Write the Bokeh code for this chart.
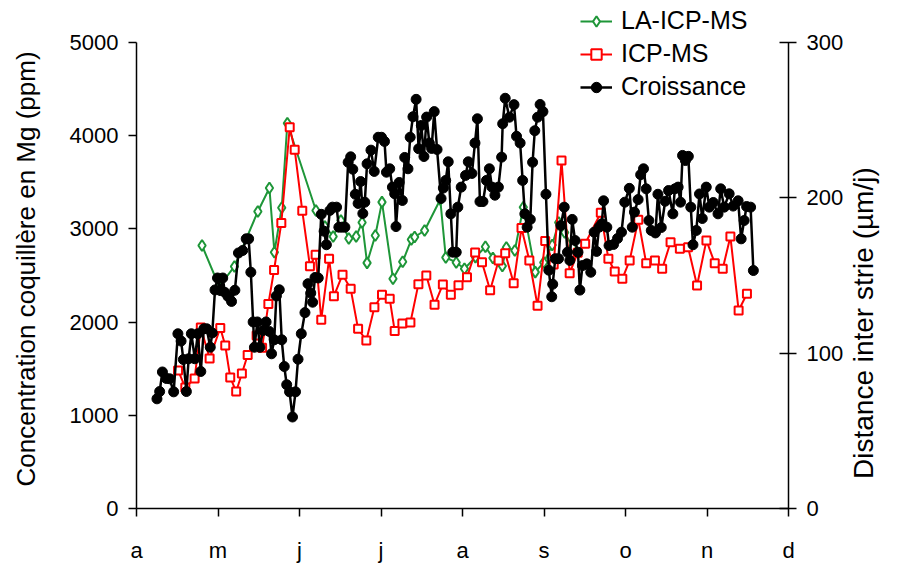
import math
from bokeh.plotting import figure
from bokeh.models import Range1d, LinearAxis, FixedTicker, Legend, LegendItem
from bokeh.embed import file_html
from bokeh.resources import INLINE

month_ticks = [0, 1, 2, 3, 4, 5, 6, 7, 8]
month_labels = ["a", "m", "j", "j", "a", "s", "o", "n", "d"]
left_ticks = [0, 1000, 2000, 3000, 4000, 5000]
right_ticks = [0, 100, 200, 300]

# LA-ICP-MS (ppm)
la_x = [0.804, 1.015, 1.202, 1.489, 1.631, 1.692, 1.782, 1.851, 2.202, 2.312,
        2.413, 2.508, 2.605, 2.695, 2.768, 2.829, 2.930, 3.012, 3.147, 3.266,
        3.372, 3.413, 3.535, 3.727, 3.795, 3.923, 4.024, 4.159, 4.281, 4.373,
        4.489, 4.538, 4.642, 4.746, 4.893, 4.997, 5.101, 5.180, 5.254, 5.349]
la_y = [2822, 2382, 2597, 3187, 3439, 2750, 3227, 4134, 3198, 3026,
        2919, 3090, 2897, 2919, 3069, 2636, 2929, 3287, 2465, 2647,
        2886, 2913, 2983, 3316, 2693, 2640, 2572, 2697, 2808, 2688,
        2602, 2801, 2768, 3233, 2536, 2640, 2827, 3069, 2961, 2804]

# ICP-MS (ppm)
icp_x = [0.510, 0.599, 0.713, 0.789, 0.897, 1.028, 1.089, 1.150, 1.223, 1.293,
         1.364, 1.474, 1.541, 1.618, 1.688, 1.777, 1.880, 1.941, 2.034, 2.128,
         2.198, 2.267, 2.363, 2.422, 2.528, 2.628, 2.719, 2.820, 2.919, 3.012,
         3.107, 3.168, 3.262, 3.361, 3.459, 3.556, 3.657, 3.759, 3.857, 3.951,
         4.055, 4.155, 4.239, 4.339, 4.443, 4.524, 4.628, 4.724, 4.820, 4.921,
         5.015, 5.119, 5.215, 5.315, 5.413, 5.505, 5.697, 5.790, 5.868, 5.961,
         6.051, 6.157, 6.254, 6.361, 6.450, 6.553, 6.667, 6.768, 6.878, 6.993,
         7.095, 7.193, 7.287, 7.388, 7.490]
icp_y = [1481, 1298, 1395, 1942, 1610, 1937, 1749, 1406, 1255, 1449,
         1647, 1856, 1724, 2194, 2559, 3063, 4091, 3850, 3194, 2600,
         2722, 2026, 2679, 2278, 2509, 2357, 1928, 1803, 2160, 2293,
         2250, 1905, 1985, 1996, 2407, 2500, 2187, 2404, 2293, 2396,
         2482, 2747, 2643, 2342, 2661, 2739, 2417, 3010, 2661, 2175,
         2870, 2618, 3734, 2525, 2745, 2840, 3174, 2679, 2543, 2465,
         2661, 3098, 2632, 2661, 2572, 2857, 2787, 2804, 2393, 2876,
         2632, 2572, 2919, 2125, 2304]

# Croissance (µm/j, right axis)
cr_x = [0.251, 0.284, 0.318, 0.367, 0.407, 0.456, 0.508, 0.547, 0.575, 0.612,
        0.640, 0.673, 0.716, 0.752, 0.789, 0.826, 0.862, 0.905, 0.930, 0.963,
        0.994, 1.028, 1.058, 1.085, 1.123, 1.166, 1.207, 1.251, 1.303, 1.346,
        1.376, 1.403, 1.431, 1.447, 1.483, 1.514, 1.553, 1.590, 1.629, 1.657,
        1.690, 1.716, 1.752, 1.782, 1.813, 1.843, 1.878, 1.914, 1.951, 1.982,
        2.022, 2.067, 2.104, 2.138, 2.161, 2.190, 2.230, 2.267, 2.302, 2.330,
        2.373, 2.404, 2.455, 2.483, 2.520, 2.557, 2.597, 2.628, 2.654, 2.685,
        2.719, 2.750, 2.777, 2.801, 2.829, 2.877, 2.917, 2.966, 3.006, 3.043,
        3.067, 3.107, 3.140, 3.168, 3.184, 3.223, 3.262, 3.291, 3.331, 3.358,
        3.392, 3.431, 3.462, 3.495, 3.527, 3.560, 3.593, 3.621, 3.653, 3.688,
        3.737, 3.765, 3.794, 3.825, 3.857, 3.881, 3.923, 3.943, 3.984, 4.037,
        4.071, 4.116, 4.153, 4.183, 4.214, 4.251, 4.294, 4.330, 4.361, 4.398,
        4.440, 4.480, 4.493, 4.524, 4.575, 4.632, 4.663, 4.707, 4.738, 4.765,
        4.793, 4.832, 4.860, 4.887, 4.921, 4.952, 4.987, 5.024, 5.059, 5.095,
        5.107, 5.138, 5.178, 5.207, 5.248, 5.288, 5.317, 5.346, 5.382, 5.417,
        5.440, 5.472, 5.525, 5.574, 5.615, 5.645, 5.676, 5.709, 5.731, 5.771,
        5.798, 5.853, 5.902, 5.951, 5.991, 6.047, 6.083, 6.110, 6.155, 6.186,
        6.221, 6.254, 6.287, 6.316, 6.367, 6.398, 6.439, 6.487, 6.528, 6.581,
        6.606, 6.646, 6.675, 6.700, 6.735, 6.771, 6.801, 6.828, 6.869, 6.908,
        6.942, 6.991, 7.028, 7.077, 7.135, 7.168, 7.211, 7.272, 7.321, 7.382,
        7.419, 7.456, 7.486, 7.535, 7.569]
cr_y = [70.6, 75.3, 87.9, 83.7, 83.5, 75.1, 112.5, 107.8, 95.9, 75.3,
        96.4, 112.5, 96.4, 112.5, 88.2, 115.7, 115.7, 103.8, 113.0, 140.7,
        148.4, 140.3, 148.4, 139.1, 136.5, 133.3, 140.5, 164.5, 166.1, 173.6,
        173.6, 152.1, 120.1, 103.8, 120.1, 103.8, 114.6, 120.1, 114.0, 99.6,
        108.6, 136.8, 140.8, 108.6, 91.4, 79.7, 75.1, 58.9, 75.1, 96.1,
        112.5, 126.1, 144.7, 138.7, 132.8, 148.7, 148.4, 189.4, 178.5, 169.8,
        191.9, 194.0, 194.0, 181.1, 181.1, 181.1, 222.9, 226.4, 218.4, 202.3,
        196.4, 210.5, 189.9, 197.2, 221.9, 230.7, 217.0, 239.0, 239.0, 236.3,
        216.5, 218.7, 206.9, 202.6, 181.5, 209.9, 198.3, 226.0, 218.7, 239.0,
        252.2, 263.4, 231.6, 246.6, 226.6, 252.0, 235.3, 231.8, 255.5, 231.1,
        199.6, 206.3, 211.2, 223.2, 189.7, 165.0, 165.0, 194.0, 206.9, 214.4,
        223.2, 215.7, 235.3, 250.9, 197.6, 197.6, 211.2, 218.7, 206.9, 201.7,
        206.9, 226.2, 247.7, 264.1, 251.9, 260.0, 239.6, 235.3, 211.2, 189.7,
        181.1, 186.1, 222.9, 243.2, 251.9, 260.1, 255.5, 202.3, 153.4, 136.3,
        144.4, 160.8, 160.8, 182.2, 194.0, 165.0, 159.7, 186.1, 172.5, 165.0,
        140.6, 156.4, 157.5, 152.1, 177.9, 165.5, 181.1, 183.3, 198.1, 181.1,
        169.3, 170.0, 173.8, 177.9, 197.2, 206.1, 181.1, 190.8, 198.9, 214.9,
        218.7, 205.8, 185.4, 179.0, 177.4, 202.3, 180.9, 197.8, 204.7, 189.7,
        205.8, 206.9, 197.2, 227.3, 224.0, 226.7, 194.0, 169.8, 179.0, 202.5,
        186.7, 206.9, 194.0, 197.0, 189.7, 205.8, 194.0, 202.6, 194.7, 198.1,
        173.6, 185.4, 194.4, 194.0, 153.2]

FONT = "Liberation Sans"
GREEN = "#1E9638"
RED = "#FF0000"

# The frame reaches the top of the canvas so the legend (above the 5000 tick)
# stays inside it; the axes are bounded to their tick spans.
TOP_PAD = 42.0 / 466.0
left_max = 5000
right_max = 300
left_title = "Concentration coquillère en Mg (ppm)"
right_title = "Distance inter strie (µm/j)"
right_title_at = 19   # right-axis value where the rotated title begins

p = figure(width=897, height=565, output_backend="svg", toolbar_location=None,
           x_range=Range1d(0, 8),
           y_range=Range1d(0, left_max * (1 + TOP_PAD)),
           min_border_left=136, min_border_right=107, min_border_top=0,
           min_border_bottom=57)
p.extra_y_ranges = {"right": Range1d(0, right_max * (1 + TOP_PAD))}
p.outline_line_color = None
p.grid.visible = False
p.background_fill_color = "white"
p.border_fill_color = "white"


def style(ax, size="22px"):
    ax.axis_line_color = "black"
    ax.axis_line_width = 1.5
    ax.major_tick_line_color = "black"
    ax.major_tick_line_width = 1.5
    ax.minor_tick_line_color = None
    ax.major_label_text_font = FONT
    ax.major_label_text_font_size = size
    ax.major_label_text_color = "black"
    ax.axis_label_text_font = FONT
    ax.axis_label_text_font_style = "normal"
    ax.axis_label_text_color = "black"


xa = p.xaxis[0]
style(xa)
xa.ticker = FixedTicker(ticks=month_ticks)
xa.major_label_overrides = {t: l for t, l in zip(month_ticks, month_labels)}
xa.major_tick_out = 8
xa.major_tick_in = 0
xa.major_label_standoff = 21

ya = p.yaxis[0]
style(ya)
ya.ticker = FixedTicker(ticks=left_ticks)
ya.bounds = (0, left_max)
ya.major_tick_out = 8
ya.major_tick_in = 0
ya.major_label_standoff = 10
# trailing no-break spaces shift the centred title down to the middle of the
# 0-5000 span (the frame itself also holds the legend strip above it)
ya.axis_label = left_title + "\u00a0" * 4
ya.axis_label_text_font_size = "26px"
ya.axis_label_standoff = 26

yr = LinearAxis(y_range_name="right", ticker=FixedTicker(ticks=right_ticks))
style(yr)
yr.bounds = (0, right_max)
yr.major_tick_out = 8
yr.major_tick_in = 9
yr.major_label_standoff = 10
p.add_layout(yr, "right")

# right-hand title, drawn as the single label of a bare axis so that it
# reads bottom-to-top like the left title
ta = LinearAxis(y_range_name="right", ticker=FixedTicker(ticks=[right_title_at]))
style(ta, size="28px")
ta.major_label_overrides = {right_title_at: right_title}
ta.major_label_orientation = math.pi / 2
ta.axis_line_color = None
ta.major_tick_line_color = None
ta.major_tick_out = 0
ta.major_tick_in = 0
ta.major_label_standoff = 17
p.add_layout(ta, "right")

la_line = p.line(la_x, la_y, line_color=GREEN, line_width=2)
la_pts = p.scatter(la_x, la_y, marker="diamond", size=11,
                   line_color=GREEN, line_width=2, fill_color="white")
icp_line = p.line(icp_x, icp_y, line_color=RED, line_width=2)
icp_pts = p.scatter(icp_x, icp_y, marker="square", size=8,
                    line_color=RED, line_width=2, fill_color="white")
cr_line = p.line(cr_x, cr_y, line_color="black", line_width=2.5,
                 y_range_name="right")
cr_pts = p.scatter(cr_x, cr_y, marker="circle", size=10, line_color="black",
                   fill_color="black", y_range_name="right")

legend = Legend(items=[
    LegendItem(label="LA-ICP-MS", renderers=[la_line, la_pts]),
    LegendItem(label="ICP-MS", renderers=[icp_line, icp_pts]),
    LegendItem(label="Croissance", renderers=[cr_line, cr_pts]),
], location=(444, 407), orientation="vertical", glyph_width=32,
    glyph_height=26, label_height=26, label_standoff=9, spacing=4,
    padding=0, margin=0, border_line_color=None, background_fill_alpha=0,
    label_text_font=FONT, label_text_font_size="25px",
    label_text_color="black")
p.add_layout(legend)

open("out.html", "w").write(file_html(p, INLINE))
